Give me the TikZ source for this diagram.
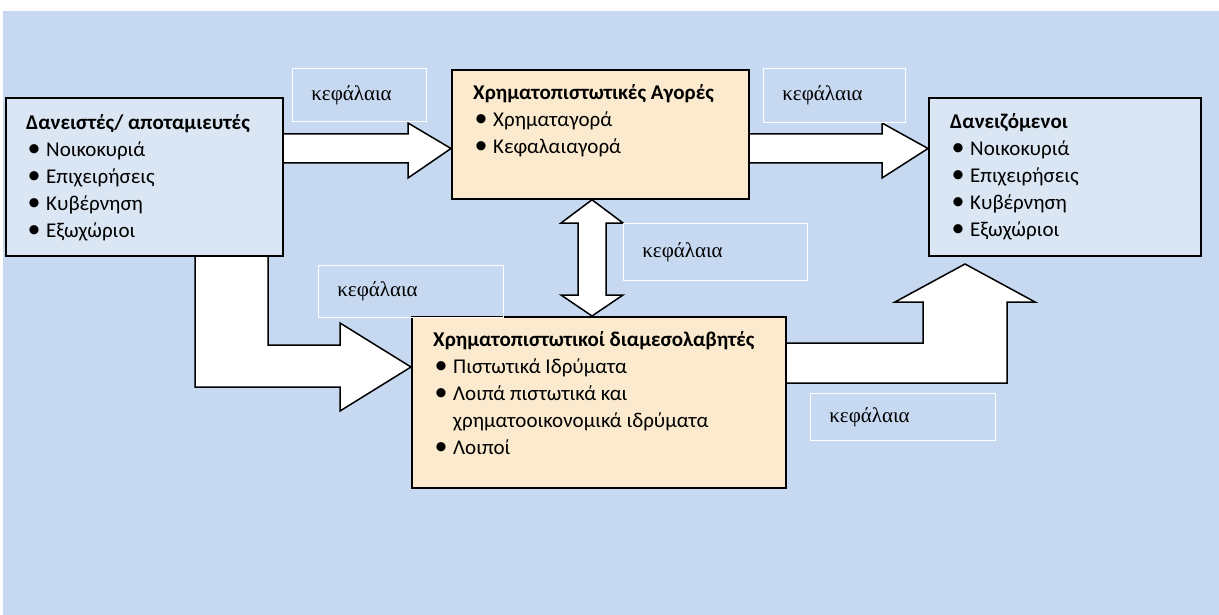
\documentclass[tikz,border=0pt]{standalone}
\usepackage{fontspec}
\setmainfont{Carlito}
\newfontfamily\capfont{Liberation Serif}
\usetikzlibrary{calc,positioning}
\definecolor{bgblue}{HTML}{C6D9F1}
\definecolor{boxblue}{HTML}{DAE6F4}
\definecolor{boxsand}{HTML}{FBEACD}
\pgfdeclarelayer{bg}
\pgfdeclarelayer{arrows}
\pgfsetlayers{bg,arrows,main}
\newcommand{\itm}{\makebox[20pt][l]{\hspace{1.5pt}{\fontsize{26}{26}\selectfont\textbullet}}}
\newcommand{\cnt}{\hspace*{20pt}}

\begin{document}
\begin{tikzpicture}[x=1pt, y=-1pt, every node/.style={inner sep=0pt},
  actor/.style={draw, line width=1.8pt, fill=boxblue, anchor=north west},
  market/.style={draw, line width=1.8pt, fill=boxsand, anchor=north west},
  listtext/.style={anchor=north west, align=left, font=\fontsize{21}{27}\selectfont},
  capbox/.style={draw=white, line width=0.7pt, anchor=north west, align=left, inner xsep=19pt, font=\capfont\fontsize{21}{24}\selectfont},
  blockarrow/.style={draw, fill=white, line width=1.5pt, line join=miter}]
\useasboundingbox (0,0) rectangle (1219,615);
\begin{pgfonlayer}{bg}
\fill[bgblue] (3,11) rectangle (1219,615);
\end{pgfonlayer}

% the four sectors
\node[actor, minimum width=277pt, minimum height=158pt] (lend) at (5,97) {};
\node[market, minimum width=297pt, minimum height=129pt] (mkt) at (451,69) {};
\node[actor, minimum width=272pt, minimum height=158pt] (borr) at (928,97) {};
\node[market, minimum width=374pt, minimum height=171pt] (intm) at (411,316) {};

\node[listtext] (lendtxt) at ($(lend.north west)+(21,17)$) {\textbf{Δανειστές/ αποταμιευτές}\\
  \itm Νοικοκυριά\\ \itm Επιχειρήσεις\\ \itm Κυβέρνηση\\ \itm Εξωχώριοι};
\node[listtext] (mkttxt) at ($(mkt.north west)+(22,15)$) {\textbf{Χρηματοπιστωτικές Αγορές}\\
  \itm Χρηματαγορά\\ \itm Κεφαλαιαγορά};
\node[listtext] (borrtxt) at ($(borr.north west)+(22,16)$) {\textbf{Δανειζόμενοι}\\
  \itm Νοικοκυριά\\ \itm Επιχειρήσεις\\ \itm Κυβέρνηση\\ \itm Εξωχώριοι};
\node[listtext] (intmtxt) at ($(intm.north west)+(22,15)$) {\textbf{Χρηματοπιστωτικοί διαμεσολαβητές}\\
  \itm Πιστωτικά Ιδρύματα\\ \itm Λοιπά πιστωτικά και\\ \cnt χρηματοοικονομικά ιδρύματα\\ \itm Λοιποί};

% block arrows
\coordinate (borrin) at (965,264);
\begin{pgfonlayer}{arrows}
\draw[blockarrow] (lend.east |- 0,134) -- (408,134) -- (408,123) -- (mkt.west |- 0,148.5)
  -- (408,178) -- (408,163) -- (lend.east |- 0,163);
\draw[blockarrow] (mkt.east |- 0,134) -- (882,134) -- (882,123) -- (borr.west |- 0,148.5)
  -- (882,178) -- (882,163) -- (mkt.east |- 0,163);
\draw[blockarrow] (592,0 |- mkt.south) -- (623,223) -- (606,223) -- (606,295) -- (623,295)
  -- (592,0 |- intm.north) -- (561,295) -- (578,295) -- (578,223) -- (561,223) -- cycle;
\draw[blockarrow] (268,0 |- lend.south) -- (268,345) -- (340,345) -- (340,323) -- (intm.west |- 0,367)
  -- (340,411) -- (340,387) -- (195,387) -- (195,0 |- lend.south);
\draw[blockarrow] (intm.east |- 0,343) -- (923,343) -- (923,302) -- (895,302) -- (borrin)
  -- (1035,302) -- (1007,302) -- (1007,383) -- (intm.east |- 0,383);
\end{pgfonlayer}

% labels
\node[capbox, text width=96pt, minimum height=53pt] (cap1) at (292,68) {κεφάλαια};
\node[capbox, text width=104pt, minimum height=54pt] (cap2) at (763,68) {κεφάλαια};
\node[capbox, text width=146pt, minimum height=57pt] (cap3) at (623,223) {κεφάλαια};
\node[capbox, text width=147pt, minimum height=52pt] (cap4) at (318,265) {κεφάλαια};
\node[capbox, text width=147pt, minimum height=47pt] (cap5) at (810,393) {κεφάλαια};
\end{tikzpicture}
\end{document}
